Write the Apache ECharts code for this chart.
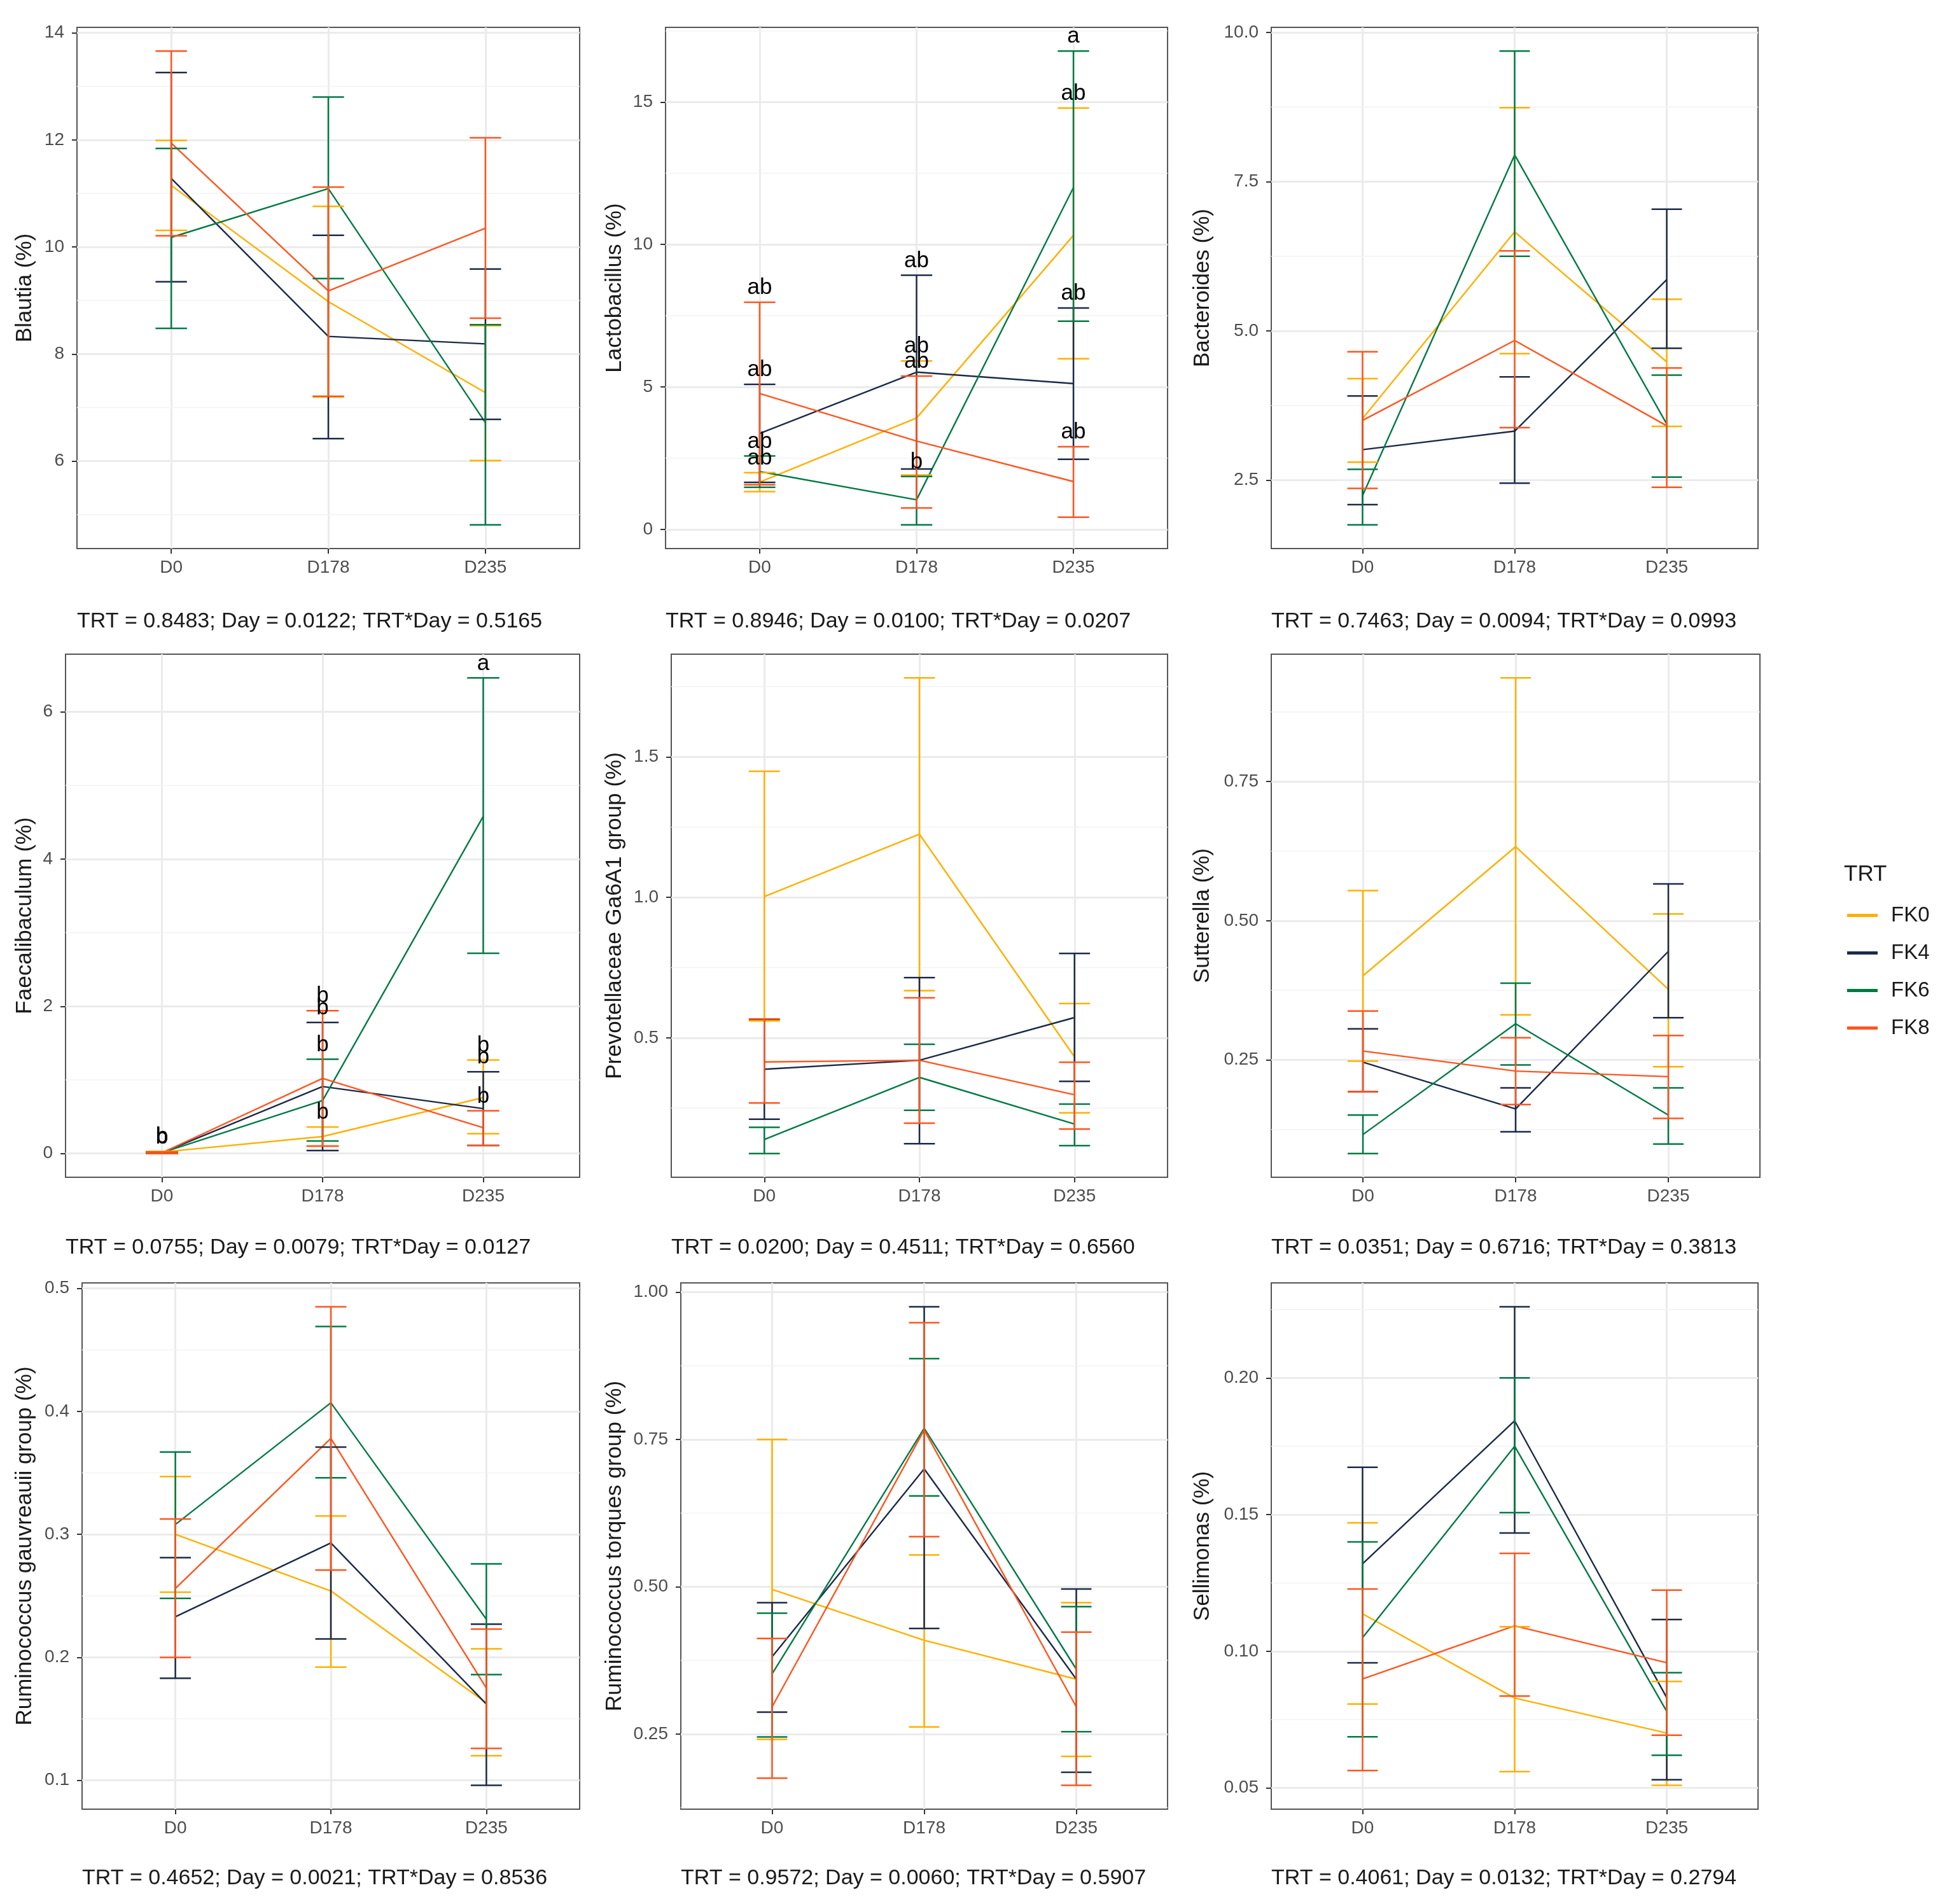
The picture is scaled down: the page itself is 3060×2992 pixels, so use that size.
<!DOCTYPE html>
<html>
<head>
    <meta charset="utf-8">
    <title>TRT x Day</title>
    <script src="https://cdn.jsdelivr.net/npm/echarts@6.0.0/dist/echarts.min.js"></script>
    <style>
        html, body { margin: 0; padding: 0; background: #fff; }
        #chart { width: 3060px; height: 2992px; }
    </style>
</head>
<body>
<div id="chart"></div>
<script>
    const days = ['D0', 'D178', 'D235'];
    const groups = ['FK0', 'FK4', 'FK6', 'FK8'];
    const colors = ['#FFB000', '#1C2A48', '#007A45', '#FF5520'];

    // each row = one TRT group (FK0, FK4, FK6, FK8), columns = D0, D178, D235
    const blautiaMean = [[11.15, 8.98, 7.28], [11.28, 8.33, 8.19], [10.18, 11.09, 6.72], [11.94, 9.18, 10.35]];
    const blautiaLo = [[10.31, 7.20, 6.01], [9.35, 6.42, 6.78], [8.48, 9.41, 4.81], [10.21, 7.21, 8.67]];
    const blautiaHi = [[11.99, 10.76, 8.53], [13.26, 10.22, 9.59], [11.84, 12.80, 8.55], [13.66, 11.12, 12.04]];
    const blautiaTicks = ['6', '8', '10', '12', '14'];

    const lactoMean = [[1.66, 3.91, 10.32], [3.37, 5.52, 5.12], [2.03, 1.04, 12.0], [4.77, 3.10, 1.68]];
    const lactoLo = [[1.33, 1.91, 5.99], [1.65, 2.12, 2.46], [1.48, 0.16, 7.31], [1.57, 0.75, 0.43]];
    const lactoHi = [[1.99, 5.91, 14.79], [5.09, 8.92, 7.77], [2.58, 1.86, 16.79], [7.97, 5.38, 2.90]];
    const lactoTicks = ['0', '5', '10', '15'];
    const lactoLetters = [['ab', 'ab', 'ab'], ['ab', 'ab', 'ab'], ['ab', 'b', 'a'], ['ab', 'ab', 'ab']];

    const bacterMean = [[3.53, 6.66, 4.48], [3.01, 3.32, 5.86], [2.24, 7.95, 3.44], [3.50, 4.84, 3.41]];
    const bacterLo = [[2.80, 4.62, 3.40], [2.09, 2.45, 4.71], [1.75, 6.25, 2.55], [2.36, 3.38, 2.38]];
    const bacterHi = [[4.20, 8.74, 5.53], [3.91, 4.23, 7.04], [2.68, 9.69, 4.26], [4.65, 6.34, 4.38]];
    const bacterTicks = ['2.5', '5.0', '7.5', '10.0'];

    const faecaMean = [[0.02, 0.23, 0.76], [0.01, 0.91, 0.61], [0.01, 0.72, 4.58], [0.01, 1.02, 0.35]];
    const faecaLo = [[0.0, 0.10, 0.27], [0.0, 0.04, 0.11], [0.0, 0.17, 2.72], [0.0, 0.10, 0.11]];
    const faecaHi = [[0.03, 0.36, 1.27], [0.02, 1.78, 1.11], [0.02, 1.28, 6.46], [0.02, 1.94, 0.58]];
    const faecaTicks = ['0', '2', '4', '6'];
    const faecaLetters = [['b', 'b', 'b'], ['b', 'b', 'b'], ['b', 'b', 'a'], ['b', 'b', 'b']];

    const prevoMean = [[1.003, 1.225, 0.432], [0.388, 0.42, 0.572], [0.138, 0.359, 0.193], [0.414, 0.42, 0.297]];
    const prevoLo = [[0.56, 0.668, 0.233], [0.21, 0.123, 0.345], [0.088, 0.242, 0.116], [0.268, 0.196, 0.175]];
    const prevoHi = [[1.449, 1.781, 0.622], [0.566, 0.714, 0.80], [0.181, 0.477, 0.264], [0.567, 0.642, 0.413]];
    const prevoTicks = ['0.5', '1.0', '1.5'];

    const suttMean = [[0.401, 0.633, 0.377], [0.246, 0.162, 0.445], [0.116, 0.315, 0.151], [0.266, 0.23, 0.22]];
    const suttLo = [[0.248, 0.331, 0.238], [0.193, 0.121, 0.326], [0.082, 0.241, 0.099], [0.193, 0.17, 0.145]];
    const suttHi = [[0.554, 0.936, 0.512], [0.306, 0.20, 0.566], [0.151, 0.388, 0.20], [0.338, 0.29, 0.294]];
    const suttTicks = ['0.25', '0.50', '0.75'];

    const gauvMean = [[0.30, 0.254, 0.163], [0.233, 0.293, 0.162], [0.308, 0.407, 0.231], [0.256, 0.378, 0.175]];
    const gauvLo = [[0.253, 0.192, 0.12], [0.183, 0.215, 0.096], [0.248, 0.346, 0.186], [0.20, 0.271, 0.126]];
    const gauvHi = [[0.347, 0.315, 0.207], [0.281, 0.371, 0.227], [0.367, 0.469, 0.276], [0.3125, 0.485, 0.223]];
    const gauvTicks = ['0.1', '0.2', '0.3', '0.4', '0.5'];

    const torqMean = [[0.4955, 0.409, 0.343], [0.381, 0.70, 0.343], [0.352, 0.769, 0.36], [0.296, 0.766, 0.296]];
    const torqLo = [[0.241, 0.262, 0.212], [0.287, 0.429, 0.185], [0.245, 0.654, 0.254], [0.175, 0.585, 0.163]];
    const torqHi = [[0.75, 0.554, 0.473], [0.473, 0.975, 0.496], [0.455, 0.887, 0.466], [0.412, 0.948, 0.423]];
    const torqTicks = ['0.25', '0.50', '0.75', '1.00'];

    const selliMean = [[0.1137, 0.0829, 0.0701], [0.132, 0.1843, 0.083], [0.105, 0.175, 0.078], [0.0899, 0.1093, 0.0958]];
    const selliLo = [[0.0807, 0.056, 0.051], [0.0958, 0.1433, 0.053], [0.0687, 0.1507, 0.062], [0.0564, 0.0836, 0.0693]];
    const selliHi = [[0.147, 0.109, 0.089], [0.1673, 0.226, 0.1116], [0.140, 0.20, 0.0922], [0.1228, 0.1358, 0.1224]];
    const selliTicks = ['0.05', '0.10', '0.15', '0.20'];

    const panels = [
        { title: 'Blautia (%)', mean: blautiaMean, lo: blautiaLo, hi: blautiaHi, ticks: blautiaTicks, p: 'TRT = 0.8483; Day = 0.0122; TRT*Day = 0.5165' },
        { title: 'Lactobacillus (%)', mean: lactoMean, lo: lactoLo, hi: lactoHi, ticks: lactoTicks, letters: lactoLetters, p: 'TRT = 0.8946; Day = 0.0100; TRT*Day = 0.0207' },
        { title: 'Bacteroides (%)', mean: bacterMean, lo: bacterLo, hi: bacterHi, ticks: bacterTicks, p: 'TRT = 0.7463; Day = 0.0094; TRT*Day = 0.0993' },
        { title: 'Faecalibaculum (%)', mean: faecaMean, lo: faecaLo, hi: faecaHi, ticks: faecaTicks, letters: faecaLetters, p: 'TRT = 0.0755; Day = 0.0079; TRT*Day = 0.0127' },
        { title: 'Prevotellaceae Ga6A1 group (%)', mean: prevoMean, lo: prevoLo, hi: prevoHi, ticks: prevoTicks, p: 'TRT = 0.0200; Day = 0.4511; TRT*Day = 0.6560' },
        { title: 'Sutterella (%)', mean: suttMean, lo: suttLo, hi: suttHi, ticks: suttTicks, p: 'TRT = 0.0351; Day = 0.6716; TRT*Day = 0.3813' },
        { title: 'Ruminococcus gauvreauii group (%)', mean: gauvMean, lo: gauvLo, hi: gauvHi, ticks: gauvTicks, p: 'TRT = 0.4652; Day = 0.0021; TRT*Day = 0.8536' },
        { title: 'Ruminococcus torques group (%)', mean: torqMean, lo: torqLo, hi: torqHi, ticks: torqTicks, p: 'TRT = 0.9572; Day = 0.0060; TRT*Day = 0.5907' },
        { title: 'Sellimonas (%)', mean: selliMean, lo: selliLo, hi: selliHi, ticks: selliTicks, p: 'TRT = 0.4061; Day = 0.0132; TRT*Day = 0.2794' }
    ];

    // panel boxes in px: [left, top, right, bottom]
    const boxes = [
        [121, 43, 911, 862], [1046, 43, 1835, 862], [1998, 43, 2763, 862],
        [103, 1028, 911, 1850], [1055, 1028, 1835, 1850], [1998, 1028, 2766, 1850],
        [129, 2016, 911, 2843], [1070, 2016, 1835, 2843], [1998, 2016, 2763, 2843]
    ];
    const titleXs = [39, 966, 1890];
    const pTops = [960, 1944, 2935];

    const FONT = '"Liberation Sans", Arial, sans-serif';
    const CAP = 0.2;  // errorbar width, x units

    const option = {
        backgroundColor: '#fff',
        animation: false,
        textStyle: { fontFamily: FONT },
        title: [],
        grid: [],
        xAxis: [],
        yAxis: [],
        series: [],
        legend: {
            data: groups,
            orient: 'vertical',
            left: 2903,
            top: 1422,
            icon: 'rect',
            itemWidth: 48,
            itemHeight: 5,
            itemGap: 26,
            padding: 0,
            selectedMode: false,
            textStyle: { fontSize: 33, color: '#1a1a1a', fontFamily: FONT, padding: [0, 0, 0, 16] }
        }
    };

    option.title.push({
        text: 'TRT', left: 2898, top: 1357, padding: 0,
        textStyle: { fontSize: 35, fontWeight: 'normal', color: '#1a1a1a', fontFamily: FONT }
    });

    panels.forEach(function (d, i) {
        const box = boxes[i];
        const tickVals = d.ticks.map(Number);
        let lo = Infinity, hi = -Infinity;
        d.lo.forEach(r => r.forEach(v => { lo = Math.min(lo, v); }));
        d.hi.forEach(r => r.forEach(v => { hi = Math.max(hi, v); }));
        const pad = (hi - lo) * 0.05;
        const yMin = lo - pad, yMax = hi + pad;

        option.grid.push({
            left: box[0], top: box[1], width: box[2] - box[0], height: box[3] - box[1],
            show: true, borderColor: '#555', borderWidth: 2, backgroundColor: 'transparent'
        });
        option.xAxis.push({
            gridIndex: i, type: 'value', min: -0.6, max: 2.6, position: 'bottom',
            axisLine: { show: false, onZero: false },
            axisTick: { show: true, length: 8, customValues: [0, 1, 2], lineStyle: { color: '#333', width: 2 } },
            axisLabel: { customValues: [0, 1, 2], formatter: v => days[Math.round(v)], margin: 16, fontSize: 28, color: '#4D4D4D', fontFamily: FONT },
            splitLine: { show: true, lineStyle: { color: '#EBEBEB', width: 3 } }
        });
        option.yAxis.push({
            gridIndex: i, type: 'value', min: yMin, max: yMax, position: 'left',
            name: d.title, nameLocation: 'middle', nameRotate: 90,
            nameGap: box[0] - titleXs[i % 3] - 18,
            nameTextStyle: { fontSize: 35, color: '#1a1a1a', fontFamily: FONT },
            axisLine: { show: false, onZero: false },
            axisTick: { show: true, length: 8, customValues: tickVals, lineStyle: { color: '#333', width: 2 } },
            axisLabel: {
                customValues: tickVals, margin: 20, fontSize: 28, color: '#4D4D4D', fontFamily: FONT,
                formatter: function (v) {
                    const k = tickVals.findIndex(t => Math.abs(t - v) < 1e-9);
                    return k >= 0 ? d.ticks[k] : '';
                }
            },
            splitLine: { show: true, lineStyle: { color: '#EBEBEB', width: 3 } }
        });

        // minor grid lines halfway between the major ticks
        const step = tickVals[1] - tickVals[0];
        const minors = [];
        for (let v = tickVals[0] - step / 2; v <= yMax; v += step) {
            if (v >= yMin) minors.push([+v.toFixed(6)]);
        }
        option.series.push({
            type: 'custom', xAxisIndex: i, yAxisIndex: i, silent: true, z: 1,
            data: minors,
            encode: { y: 0 },
            renderItem: function (params, api) {
                const cs = params.coordSys;
                const y = api.coord([0, api.value(0)])[1];
                return { type: 'line', shape: { x1: cs.x, y1: y, x2: cs.x + cs.width, y2: y }, style: { stroke: '#F3F3F3', lineWidth: 1.5 } };
            }
        });

        groups.forEach(function (g, gi) {
            option.series.push({
                name: g, type: 'line', xAxisIndex: i, yAxisIndex: i, z: 3,
                color: colors[gi], symbol: 'none', silent: true,
                lineStyle: { color: colors[gi], width: 2.4 },
                data: d.mean[gi].map((m, k) => [k, m])
            });
        });
        groups.forEach(function (g, gi) {
            option.series.push({
                name: g, type: 'custom', xAxisIndex: i, yAxisIndex: i, z: 4, silent: true,
                data: d.lo[gi].map((v, k) => [k, v, d.hi[gi][k]]),
                encode: { x: 0, y: [1, 2] },
                renderItem: function (params, api) {
                    const x = api.value(0);
                    const a = api.coord([x, api.value(1)]);
                    const b = api.coord([x, api.value(2)]);
                    const half = api.coord([x + CAP / 2, api.value(1)])[0] - a[0];
                    const st = { stroke: colors[gi], lineWidth: 2.5, fill: null };
                    return {
                        type: 'group', children: [
                            { type: 'line', shape: { x1: a[0], y1: a[1], x2: b[0], y2: b[1] }, style: st },
                            { type: 'line', shape: { x1: a[0] - half, y1: a[1], x2: a[0] + half, y2: a[1] }, style: st },
                            { type: 'line', shape: { x1: b[0] - half, y1: b[1], x2: b[0] + half, y2: b[1] }, style: st }
                        ]
                    };
                }
            });
        });

        if (d.letters) {
            const pts = [], txt = [];
            groups.forEach(function (g, gi) {
                d.letters[gi].forEach(function (t, k) {
                    pts.push([k, d.hi[gi][k]]);
                    txt.push(t);
                });
            });
            option.series.push({
                type: 'custom', xAxisIndex: i, yAxisIndex: i, z: 5, silent: true,
                data: pts, encode: { x: 0, y: 1 },
                renderItem: function (params, api) {
                    const p = api.coord([api.value(0), api.value(1)]);
                    return {
                        type: 'text', x: p[0], y: p[1] - 5,
                        style: { text: txt[params.dataIndex], textAlign: 'center', textVerticalAlign: 'bottom', fontSize: 35, fontFamily: FONT, fill: '#000' }
                    };
                }
            });
        }

        option.title.push({
            text: d.p, left: box[0], top: pTops[Math.floor(i / 3)], padding: 0,
            textStyle: { fontSize: 34, fontWeight: 'normal', color: '#1a1a1a', fontFamily: FONT }
        });
    });

    const chart = echarts.init(document.getElementById('chart'));
    chart.setOption(option);
</script>
</body>
</html>
